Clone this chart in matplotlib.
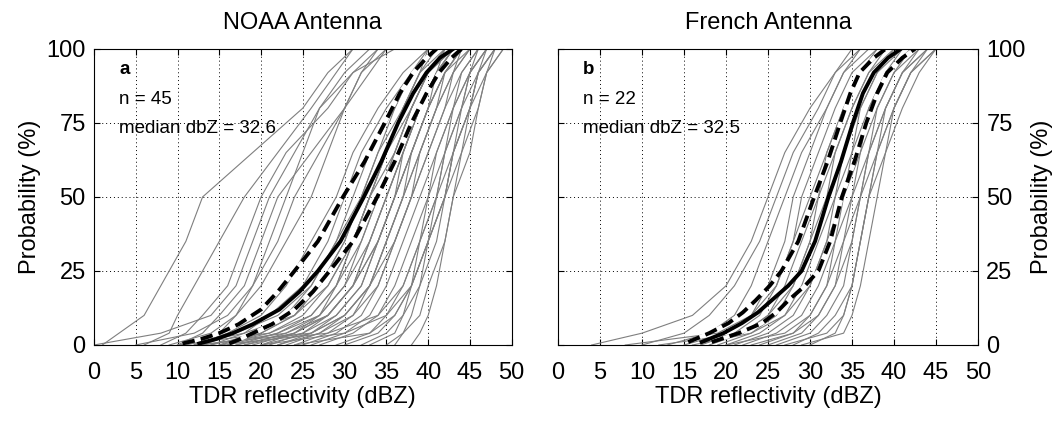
import numpy as np
import matplotlib.pyplot as plt

plt.rcParams['font.family'] = ['Liberation Sans', 'DejaVu Sans']

# probability levels (%) for the individual gray curves
p_levels = [0, 4, 10, 20, 35, 50, 65, 80, 92, 100]

# NOAA antenna: dBZ reached at each probability level, one row per case (n = 45)
noaa_cases = [
    [1, 3, 6, 8, 11, 13, 19, 25, 28, 31],
    [6, 9, 10, 12, 15, 18, 22, 26, 29, 31],
    [0, 8, 14, 17, 19, 21, 24, 27, 30, 33],
    [8, 11, 13, 16, 18, 20, 23, 28, 31, 34],
    [10, 13, 15, 18, 20, 22, 26, 30, 33, 35],
    [5, 12, 16, 19, 22, 24, 27, 30, 32, 35],
    [12, 15, 17, 19, 21, 23, 25, 27, 31, 36],
    [9, 14, 17, 20, 23, 26, 28, 30, 32, 34],
    [12, 16, 20, 23, 26, 29, 31, 34, 37, 40],
    [14, 18, 21, 25, 28, 30, 32, 35, 38, 41],
    [13, 17, 22, 26, 29, 31, 33, 36, 38, 40],
    [15, 19, 23, 26, 29, 32, 35, 37, 39, 42],
    [11, 18, 24, 27, 30, 32, 34, 36, 38, 41],
    [16, 20, 24, 28, 31, 33, 35, 37, 39, 41],
    [10, 21, 25, 28, 31, 33, 35, 38, 40, 42],
    [17, 22, 26, 29, 31, 33, 35, 37, 39, 40],
    [15, 21, 26, 29, 32, 34, 36, 38, 40, 42],
    [18, 23, 27, 30, 32, 34, 36, 38, 40, 43],
    [14, 20, 24, 27, 30, 32, 34, 37, 40, 43],
    [20, 24, 27, 29, 31, 33, 36, 38, 40, 42],
    [19, 24, 28, 31, 33, 35, 37, 39, 41, 43],
    [16, 22, 27, 30, 33, 35, 37, 39, 41, 42],
    [21, 25, 28, 31, 33, 35, 37, 39, 41, 43],
    [13, 23, 28, 31, 34, 36, 38, 40, 41, 43],
    [22, 26, 29, 32, 34, 36, 38, 40, 42, 44],
    [18, 25, 29, 32, 34, 36, 37, 39, 41, 43],
    [20, 26, 30, 33, 35, 37, 38, 40, 42, 44],
    [23, 27, 30, 33, 35, 37, 39, 41, 42, 44],
    [17, 24, 28, 31, 34, 36, 38, 40, 42, 45],
    [24, 28, 31, 33, 35, 37, 39, 41, 43, 45],
    [12, 26, 30, 33, 36, 38, 39, 41, 43, 44],
    [22, 27, 31, 34, 36, 38, 40, 42, 43, 45],
    [25, 29, 32, 34, 36, 38, 40, 42, 44, 46],
    [26, 30, 33, 35, 37, 39, 41, 43, 44, 46],
    [27, 31, 34, 36, 38, 40, 41, 43, 45, 47],
    [29, 33, 35, 37, 39, 40, 42, 43, 45, 47],
    [30, 34, 36, 38, 39, 41, 42, 44, 45, 47],
    [32, 35, 37, 38, 40, 41, 43, 44, 46, 48],
    [33, 36, 37, 39, 40, 42, 43, 45, 46, 48],
    [35, 37, 38, 39, 41, 42, 44, 45, 47, 48],
    [20, 30, 35, 38, 40, 42, 43, 45, 46, 47],
    [36, 37, 39, 40, 42, 43, 44, 46, 47, 49],
    [15, 28, 34, 37, 39, 41, 42, 44, 45, 46],
    [38, 39, 40, 41, 42, 43, 45, 46, 47, 49],
    [24, 33, 36, 38, 40, 42, 43, 45, 46, 48],
]

# French antenna (n = 22)
french_cases = [
    [4, 10, 16, 20, 23, 25, 27, 30, 33, 35],
    [10, 15, 18, 21, 24, 26, 28, 31, 33, 36],
    [13, 18, 21, 23, 25, 27, 29, 32, 34, 37],
    [8, 19, 23, 25, 27, 28, 30, 32, 34, 36],
    [15, 20, 23, 26, 28, 29, 31, 33, 35, 38],
    [17, 21, 24, 26, 28, 30, 32, 34, 36, 38],
    [12, 22, 25, 27, 29, 31, 32, 34, 36, 39],
    [18, 22, 25, 28, 30, 31, 33, 35, 37, 39],
    [19, 23, 26, 28, 30, 32, 33, 35, 37, 40],
    [20, 24, 27, 29, 31, 33, 34, 36, 38, 40],
    [16, 23, 27, 30, 32, 33, 35, 36, 38, 41],
    [21, 25, 28, 30, 32, 34, 35, 37, 39, 41],
    [22, 26, 29, 31, 33, 34, 36, 37, 39, 42],
    [20, 27, 30, 32, 33, 35, 36, 38, 40, 42],
    [24, 28, 30, 32, 34, 35, 37, 38, 40, 43],
    [25, 29, 31, 33, 34, 36, 37, 39, 41, 43],
    [23, 28, 31, 33, 35, 36, 37, 39, 41, 44],
    [26, 30, 32, 34, 35, 36, 38, 39, 41, 44],
    [28, 31, 33, 35, 36, 37, 38, 40, 42, 45],
    [27, 32, 34, 35, 36, 37, 38, 40, 42, 44],
    [30, 33, 34, 35, 36, 37, 39, 40, 42, 45],
    [29, 34, 35, 36, 37, 38, 39, 41, 43, 45],
]

# mean curve and its bounds
noaa_p = [0.5, 2, 4, 7, 12, 18, 25, 35, 50, 62, 75, 85, 92, 97, 100]
noaa_mean = [12.6, 14.6, 16.6, 19.0, 22.2, 24.6, 26.8, 29.5, 32.3, 34.4, 36.4, 38.2, 39.8, 41.4, 43.0]
noaa_lo = [10.6, 12.8, 15.0, 17.3, 20.0, 22.0, 24.0, 26.8, 29.8, 32.4, 34.8, 36.6, 38.2, 39.8, 41.0]
noaa_hi = [16.2, 17.5, 19.0, 21.3, 24.0, 26.2, 28.2, 31.0, 33.9, 36.0, 38.0, 39.8, 41.3, 42.8, 44.0]

french_p = [1, 4, 7.4, 11, 15, 20, 25, 35, 50, 62, 75, 85, 92, 97, 100]
french_mean = [17.1, 19.7, 21.9, 23.8, 25.4, 27.4, 29.0, 30.6, 32.2, 33.7, 35.1, 36.3, 37.6, 39.3, 40.8]
french_lo = [15.5, 18.0, 20.3, 22.0, 23.5, 25.2, 26.6, 28.6, 30.5, 32.1, 33.6, 34.8, 35.9, 37.6, 39.0]
french_hi = [18.3, 21.5, 24.3, 26.0, 27.4, 29.4, 31.0, 32.4, 33.8, 35.3, 36.7, 38.0, 39.2, 41.0, 42.5]

panels = [
    ('NOAA Antenna', 'a', 45, 32.6, noaa_cases, noaa_p, noaa_mean, noaa_lo, noaa_hi),
    ('French Antenna', 'b', 22, 32.5, french_cases, french_p, french_mean, french_lo, french_hi),
]

fig = plt.figure(figsize=(10.63, 4.23), dpi=100)
rects = [[0.0884, 0.1844, 0.393, 0.70], [0.525, 0.1844, 0.395, 0.70]]

for i, (title, tag, n, med, cases, mp, mean, lo, hi) in enumerate(panels):
    ax = fig.add_axes(rects[i])
    for c in cases:
        ax.plot(c, p_levels, color='#7f7f7f', lw=0.8)
    ax.plot(lo, mp, color='black', lw=2.8, dashes=(3.2, 1.6), gapcolor='white')
    ax.plot(hi, mp, color='black', lw=2.8, dashes=(3.2, 1.6), gapcolor='white')
    ax.plot(mean, mp, color='black', lw=2.8)

    ax.set_xlim(0, 50)
    ax.set_ylim(0, 100)
    ax.set_xticks(np.arange(0, 51, 5))
    ax.set_yticks([0, 25, 50, 75, 100])
    ax.grid(True, color='black', linestyle=(0, (1, 3)), lw=0.7)
    ax.tick_params(direction='in', top=True, right=True, length=4, labelsize=17)
    ax.tick_params(axis='x', pad=12)
    ax.tick_params(axis='y', pad=6)
    for s in ax.spines.values():
        s.set_linewidth(0.8)
    ax.set_title(title, fontsize=17, pad=14)
    ax.set_xlabel('TDR reflectivity (dBZ)', fontsize=17, labelpad=2)
    if i == 1:
        ax.yaxis.set_label_position('right')
        ax.tick_params(labelleft=False, labelright=True)
    ax.set_ylabel('Probability (%)', fontsize=17)

    ax.text(3, 93, tag, fontsize=13.5, fontweight='bold', va='center')
    ax.text(3, 83, 'n = %d' % n, fontsize=13.5, va='center')
    ax.text(3, 73, 'median dbZ = %.1f' % med, fontsize=13.5, va='center')

fig.savefig('out.png', dpi=100)
